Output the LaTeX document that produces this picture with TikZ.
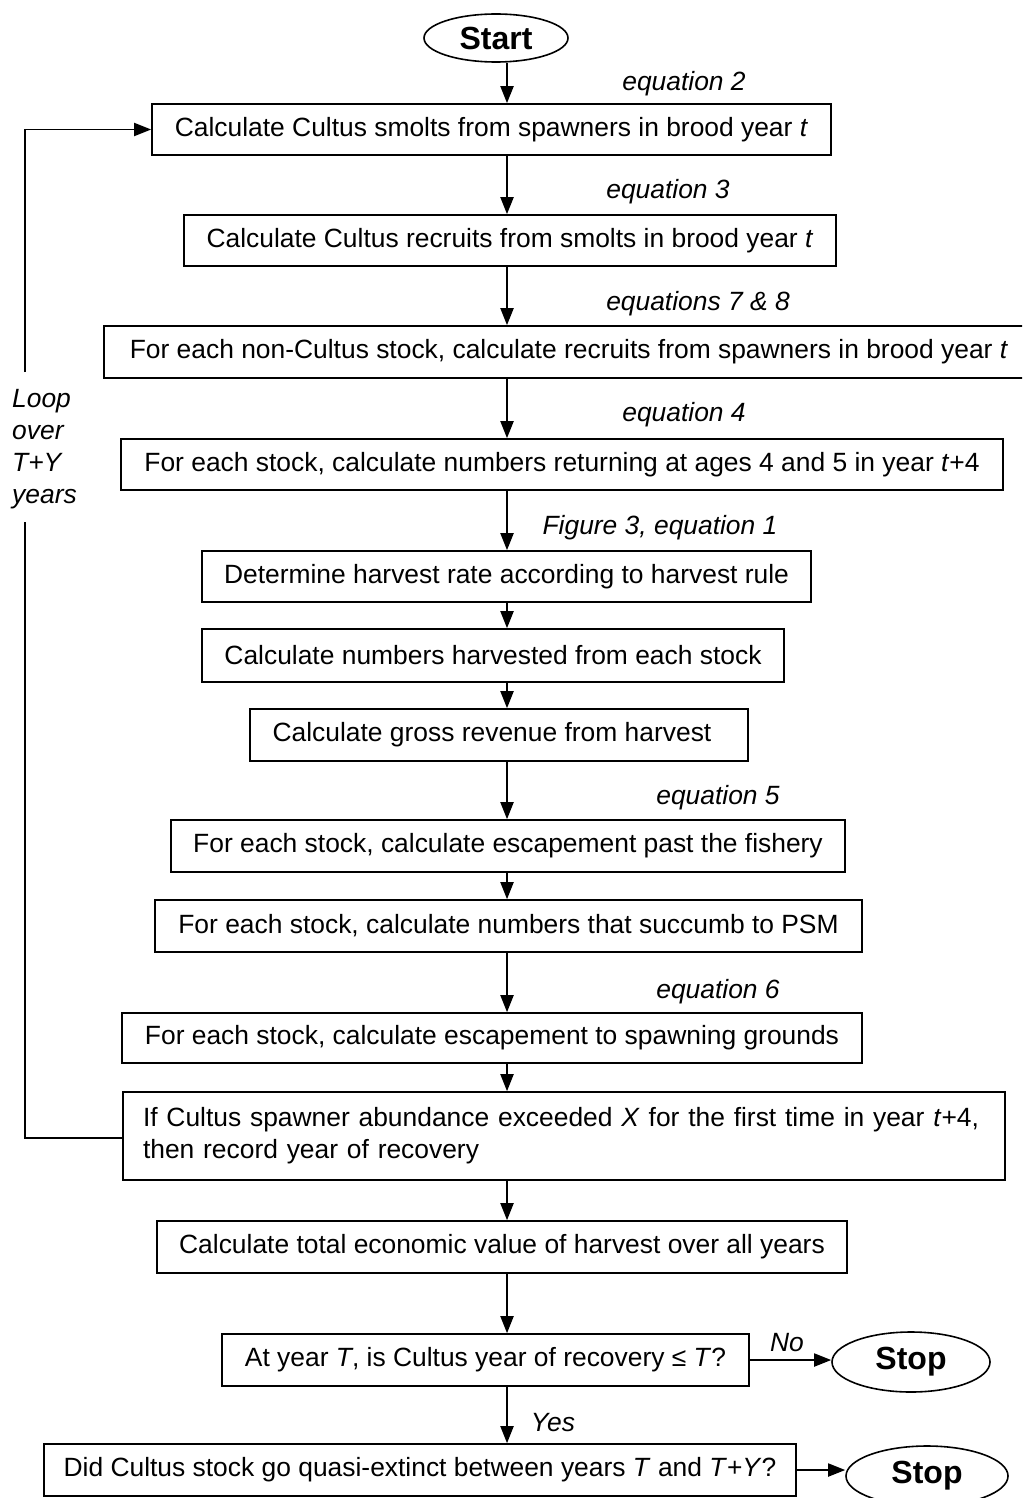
\documentclass[tikz,border=0pt]{standalone}
\usepackage{fontspec}
\setmainfont{Liberation Sans}
\usetikzlibrary{arrows.meta,shapes.geometric}
\begin{document}
\begin{tikzpicture}[x=1pt,y=-1pt,
  box/.style={draw, line width=1.6pt, rectangle, inner sep=0pt, font=\fontsize{26.4}{32}\selectfont},
  term/.style={draw, line width=1.6pt, ellipse, inner sep=0pt, font=\fontsize{32}{38}\selectfont\bfseries},
  lbl/.style={inner sep=0pt, font=\fontsize{26.4}{32}\selectfont\itshape},
  arr/.style={line width=1.9pt, -{Triangle[length=17pt,width=13pt]}},
  ln/.style={line width=1.9pt}]
\useasboundingbox (0,0) rectangle (1022,1498);
\clip (0,0) rectangle (1022,1498);
\fill[white] (0,0) rectangle (1022,1498);
\coordinate (sx) at (507,0);

\node[term, minimum width=144pt, minimum height=48pt] (st) at (496,38) {Start};

\node[box, minimum width=679pt, minimum height=51pt] (b1) at (491.5,129.5) {Calculate Cultus smolts from spawners in brood year \textit{t}};
\node[lbl] (e2) at (684,84) {equation 2};

\node[box, minimum width=652pt, minimum height=51pt] (b2) at (510,240.5) {Calculate Cultus recruits from smolts in brood year \textit{t}};
\node[lbl] (e3) at (668,192) {equation 3};

\node[box, minimum width=920pt, minimum height=52pt] (b3) at (564,352) {\hspace*{10pt}For each non-Cultus stock, calculate recruits from spawners in brood year \textit{t}};
\node[lbl] (e78) at (698,304) {equations 7 \& 8};

\node[box, minimum width=882pt, minimum height=51pt] (b4) at (562,464.5) {For each stock, calculate numbers returning at ages 4 and 5 in year \textit{t}+4};
\node[lbl] (e4) at (684,415) {equation 4};

\node[lbl] (f3) at (660,528) {Figure 3, equation 1};
\node[box, minimum width=609pt, minimum height=51pt] (b5) at (506.5,576.5) {Determine harvest rate according to harvest rule};
\node[box, minimum width=582pt, minimum height=53pt] (b6) at (493,655.5) {Calculate numbers harvested from each stock};
\node[box, minimum width=498pt, minimum height=52pt] (b7) at (499,735) {\hspace*{-14pt}Calculate gross revenue from harvest};

\node[lbl] (e5) at (718,798) {equation 5};
\node[box, minimum width=674pt, minimum height=52pt] (b8) at (508,846) {For each stock, calculate escapement past the fishery};
\node[box, minimum width=707pt, minimum height=52pt] (b9) at (508.5,926) {For each stock, calculate numbers that succumb to PSM};
\node[lbl] (e6) at (718,992) {equation 6};
\node[box, minimum width=740pt, minimum height=50pt] (b10) at (492,1038) {For each stock, calculate escapement to spawning grounds};

\node[box, minimum width=882pt, minimum height=88pt, text width=842pt, align=left] (b11) at (564,1136) {If Cultus spawner abundance exceeded \textit{X} for the first time in year \textit{t}+4,\\then record year of recovery};

\node[box, minimum width=690pt, minimum height=52pt] (b12) at (502,1247) {Calculate total economic value of harvest over all years};

\node[box, minimum width=527pt, minimum height=52pt] (b13) at (485.5,1360) {At year \textit{T}, is Cultus year of recovery ≤ \textit{T}?};
\node[term, minimum width=158pt, minimum height=60pt] (stop1) at (911,1362) {Stop};
\node[lbl] (no) at (787,1343) {No};
\node[lbl] (yes) at (553,1423) {Yes};

\node[box, minimum width=752pt, minimum height=52pt] (b14) at (420,1470) {Did Cultus stock go quasi-extinct between years \textit{T} and \textit{T}+\textit{Y}?};
\node[term, minimum width=162pt, minimum height=60pt] (stop2) at (927,1476) {Stop};

\node[lbl, align=left, anchor=west] (loop) at (12,449) {Loop\\over\\\textit{T}+\textit{Y}\\years};

% spine arrows
\draw[arr] (st.south -| sx) -- (b1.north -| sx);
\draw[arr] (b1.south -| sx) -- (b2.north -| sx);
\draw[arr] (b2.south -| sx) -- (b3.north -| sx);
\draw[arr] (b3.south -| sx) -- (b4.north -| sx);
\draw[arr] (b4.south -| sx) -- (b5.north -| sx);
\draw[arr] (b5.south -| sx) -- (b6.north -| sx);
\draw[arr] (b6.south -| sx) -- (b7.north -| sx);
\draw[arr] (b7.south -| sx) -- (b8.north -| sx);
\draw[arr] (b8.south -| sx) -- (b9.north -| sx);
\draw[arr] (b9.south -| sx) -- (b10.north -| sx);
\draw[arr] (b10.south -| sx) -- (b11.north -| sx);
\draw[arr] (b11.south -| sx) -- (b12.north -| sx);
\draw[arr] (b12.south -| sx) -- (b13.north -| sx);
\draw[arr] (b13.south -| sx) -- (b14.north -| sx);

% side arrows
\draw[arr] (b13.east) -- (stop1.west |- b13.east);
\draw[arr] (b14.east) -- (stop2.west |- b14.east);

% loop
\coordinate (lb) at (25,1138);
\coordinate (lgb) at (25,522);
\coordinate (lgt) at (25,372);
\coordinate (lt) at (25,129.5);
\draw[ln] (b11.west |- lb) -- (lb) -- (lgb);
\draw[arr] (lgt) -- (lt) -- (b1.west);
\end{tikzpicture}
\end{document}
